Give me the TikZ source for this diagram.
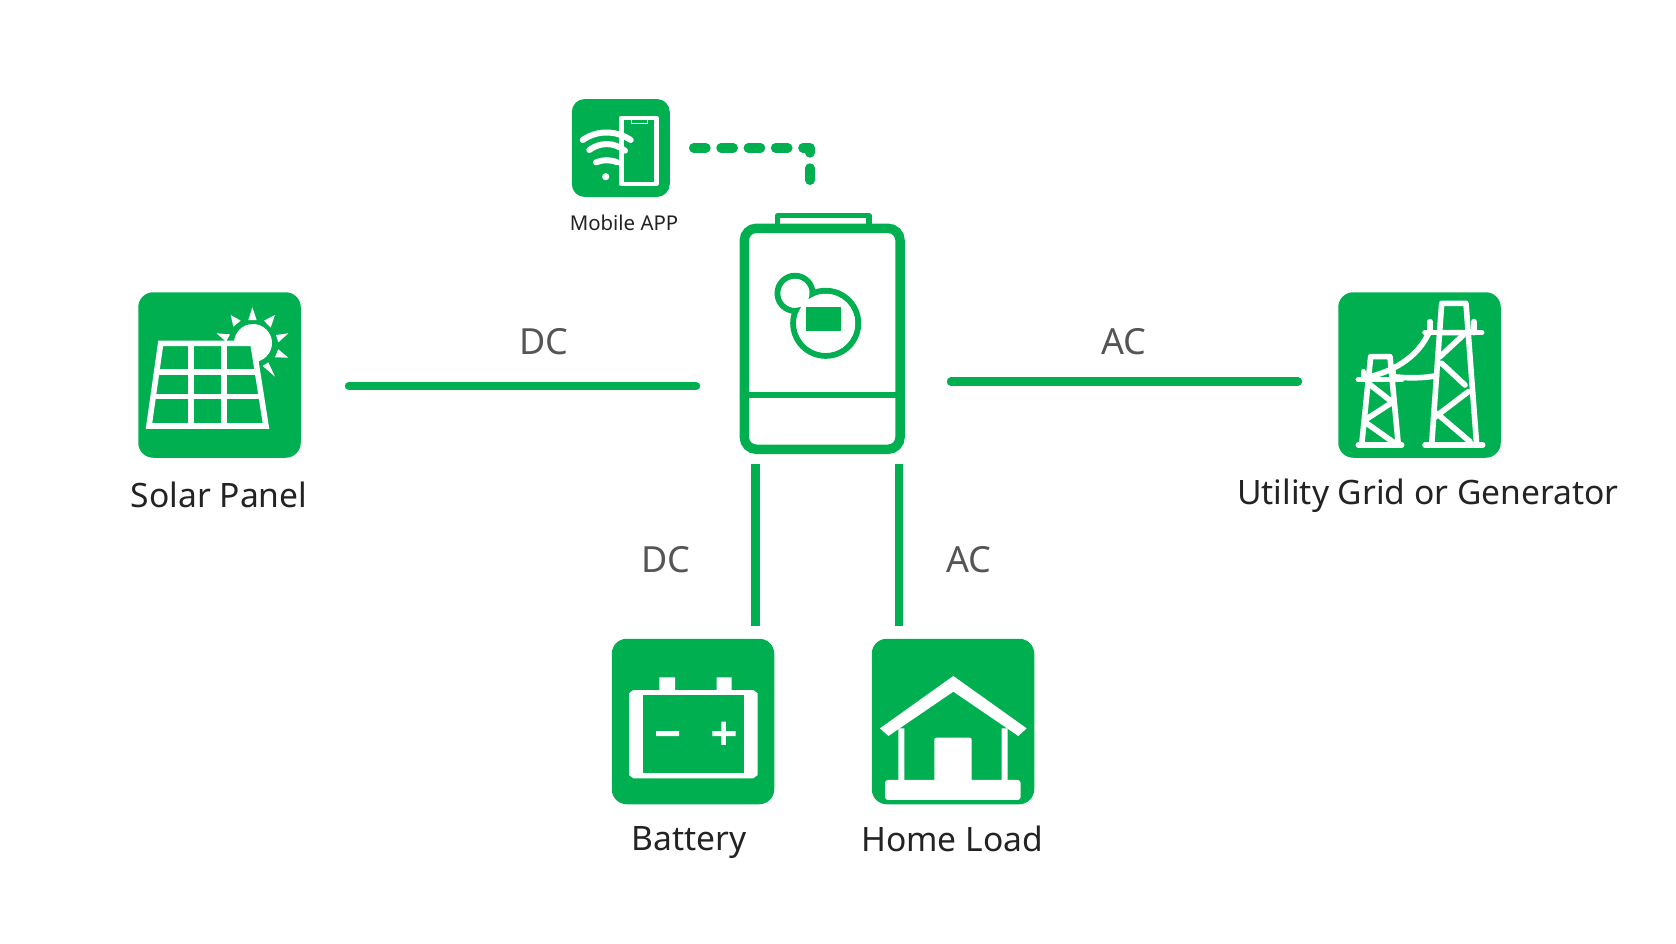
\documentclass[tikz,border=0pt]{standalone}
\usepackage{fontspec}
\setmainfont{Noto Sans}
\definecolor{brandgreen}{RGB}{0,176,80}
\definecolor{labelgray}{RGB}{35,35,35}
\definecolor{flowgray}{RGB}{85,85,85}
\tikzset{
  iconbox/.style={fill=brandgreen,draw=none,rounded corners=15pt,inner sep=0pt,minimum width=162.5pt,minimum height=165.5pt},
  whiteline/.style={draw=white,line width=5.6pt,line cap=round,line join=round},
  link/.style={draw=brandgreen,line width=8.5pt},
  invline/.style={draw=brandgreen,line join=round},
  biglabel/.style={text=labelgray,font=\fontsize{33.6}{38}\selectfont,inner sep=0pt},
  smalllabel/.style={text=labelgray,font=\fontsize{20.4}{24}\selectfont,inner sep=0pt},
  flowlabel/.style={text=flowgray,font=\fontsize{36}{40}\selectfont,inner sep=0pt},
}
\begin{document}
\begin{tikzpicture}[x=1pt,y=-1pt]
\useasboundingbox (0,0) rectangle (1676,943);
\fill[white] (0,0) rectangle (1676,943);

% boxes
\node[iconbox] (solar) at (219.5,375) {};
\node[iconbox] (grid) at (1419.5,375) {};
\node[iconbox] (battery) at (693,721.5) {};
\node[iconbox] (home) at (953,721.5) {};
\node[iconbox,minimum width=98pt,minimum height=98pt,rounded corners=13pt] (app) at (620.8,148) {};

% solar icon
\fill[white] (253,343) circle[radius=19];
\foreach \a/\b/\c/\d/\e/\f in {397/82/385/120/410/120, 332/105/340/140/362/122, 465/105/432/122/452/143, 505/160/468/165/475/187, 505/233/475/208/465/232, 465/290/428/258/445/247, 290/160/330/163/318/185}{
  \fill[white] ({120+\a/3},{280+\b/3}) -- ({120+\c/3},{280+\d/3}) -- ({120+\e/3},{280+\f/3}) -- cycle;
}
\draw[whiteline,fill=brandgreen,line join=miter] (160.7,343.3) -- (253,343.3) -- (266,426) -- (149,426) -- cycle;
\draw[whiteline,line cap=butt] (191,343) -- (191,426) (224,343) -- (224,426)
  (157.5,371.7) -- (257.5,371.7) (153.5,396.5) -- (261.5,396.5);

% app icon
\draw[whiteline,line width=4.6pt] (621.3,118) rectangle (656.3,184);
\draw[white,line width=1pt] (631.7,120) -- (631.7,123.3) -- (647.3,123.3) -- (647.3,120);
\draw[whiteline,line width=6pt] (582.7,140) .. controls (597,130) and (616,130) .. (630.7,140);
\draw[whiteline,line width=6pt] (589.3,150) .. controls (600,142) and (614,142) .. (625,150.7);
\draw[whiteline,line width=6pt] (596,162.3) .. controls (603,159.5) and (610,159.5) .. (617.3,162.3);
\fill[white] (605.7,176.7) circle[radius=3.6];
\node[smalllabel] (applabel) at (624,223) {Mobile APP};

% inverter
\draw[invline,line width=5.5pt] (777.7,228) -- (777.7,215.7) -- (869,215.7) -- (869,228);
\node[draw=brandgreen,line width=9.4pt,rounded corners=12pt,inner sep=0pt,minimum width=155.7pt,minimum height=221pt] (inverter) at (822.2,338.8) {};
\draw[brandgreen,line width=6pt] (inverter.west |- 0,395) -- (inverter.east |- 0,395);
\draw[brandgreen,line width=6pt] (825.7,323.3) circle[radius=32.5] (795,293.3) circle[radius=17.5];
\fill[white] (825.7,323.3) circle[radius=29.5] (795,293.3) circle[radius=14.5];
\fill[brandgreen] (806,307) rectangle (841,331);

% grid icon
\begin{scope}[shift={(1330,285)},x=0.3333pt,y=-0.3333pt,whiteline]
  \draw (285,480) -- (458,480) (285,143) -- (455,143) (300,110) -- (300,143) (432,110) -- (432,143);
  \draw (305,480) -- (335,55) -- (408,55) -- (440,480) (327,143) -- (416,143);
  \draw (400,150) -- (330,215) (335,235) -- (405,300) (415,320) -- (310,400) (320,385) -- (420,470);
  \draw (85,480) -- (215,480) (85,283) -- (215,283) (100,260) -- (100,283) (190,260) -- (190,283);
  \draw (95,480) -- (122,215) -- (180,215) -- (205,480);
  \draw (115,295) -- (185,350) (105,405) -- (190,350) (110,415) -- (195,475);
  \draw (120,275) .. controls (200,255) and (270,210) .. (300,135);
  \draw (190,275) .. controls (230,280) and (280,280) .. (320,272);
\end{scope}

% battery icon
\begin{scope}[shift={(605,630)},x=0.3333pt,y=-0.3333pt]
  \fill[white] (163,142) rectangle (210,185) (335,142) rectangle (380,185);
  \fill[white] (85,180) -- (445,180) -- (458,190) -- (458,435) -- (445,445) -- (85,445) -- (72,435) -- (72,190) -- cycle;
  \fill[brandgreen] (113,195) rectangle (417,430);
  \fill[white] (153,303) rectangle (222,318) (322,303) rectangle (392,318) (349,275) rectangle (363,345);
\end{scope}

% home icon
\begin{scope}[shift={(865,630)},x=0.3333pt,y=-0.3333pt]
  \fill[white] (265,138) -- (485,295) -- (460,318) -- (265,185) -- (70,318) -- (45,295) -- cycle;
  \fill[white] (100,295) rectangle (118,455) (410,295) rectangle (428,455);
  \fill[white,rounded corners=2pt] (208,323) rectangle (320,460);
  \fill[white,rounded corners=3pt] (60,450) rectangle (467,510);
\end{scope}

% connector ends
\coordinate (solarend) at (349,386);
\coordinate (invleft) at (696,386);
\coordinate (invright) at (951,381.6);
\coordinate (gridend) at (1298,381.6);
\coordinate (batttop) at (755.7,464);
\coordinate (battend) at (755.7,626);
\coordinate (hometop) at (899,464);
\coordinate (homeend) at (899,626);
\coordinate (append) at (693.7,147.8);
\coordinate (appcorner) at (810,147.8);
\coordinate (invtop) at (810,183);

\draw[link,line cap=round] (solarend) -- (invleft);
\draw[link,line cap=round] (invright) -- (gridend);
\draw[link] (batttop) -- (battend);
\draw[link] (hometop) -- (homeend);
\draw[brandgreen,line width=9.5pt,line cap=round,line join=round,dash pattern=on 12.2pt off 15.1pt] (append) -- (appcorner) -- (invtop);

% labels
\node[biglabel] (solarlabel) at (219,495) {Solar Panel};
\node[biglabel] (gridlabel) at (1428,495.5) {Utility Grid or Generator};
\node[biglabel] (batterylabel) at (689,843) {Battery};
\node[biglabel] (homelabel) at (952,839) {Home Load};
\node[flowlabel] (dcone) at (544,342) {DC};
\node[flowlabel] (acone) at (1124,342) {AC};
\node[flowlabel] (dctwo) at (666,560) {DC};
\node[flowlabel] (actwo) at (969,560) {AC};
\end{tikzpicture}
\end{document}
